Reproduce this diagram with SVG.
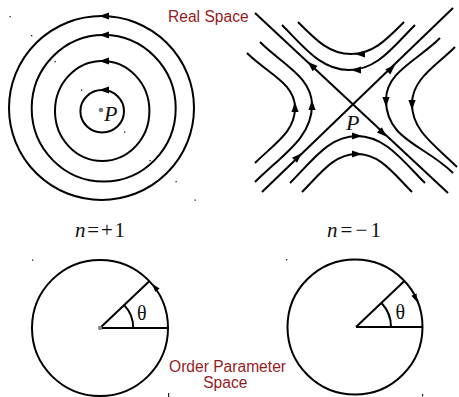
<svg xmlns="http://www.w3.org/2000/svg" width="459" height="397" viewBox="0 0 459 397">
<style>
.ln{fill:none;stroke:#000;stroke-width:2}
.lbl{font-family:"Liberation Sans",Arial,sans-serif;font-size:15.6px;fill:#971b1e}
.math{font-family:"Liberation Serif","Times New Roman",serif;fill:#111}
.it{font-style:italic}
.dot{fill:#222}
</style>
<defs>
<path id="ah" d="M0,0 L-10,-3.6 L-10,3.6 Z" fill="#000"/>
<path id="ahs" d="M0,0 L-8,-2.8 L-8,2.8 Z" fill="#000"/>
</defs>
<rect width="459" height="397" fill="#fff"/>

<g id="labels">
<text class="lbl" x="168" y="21.5">Real Space</text>
<text class="lbl" x="227.5" y="371.5" text-anchor="middle">Order Parameter</text>
<text class="lbl" x="225.3" y="387.5" text-anchor="middle">Space</text>
<text class="math" x="75" y="237" font-size="21" textLength="50" lengthAdjust="spacing"><tspan class="it">n</tspan>=+1</text>
<text class="math" x="327" y="237" font-size="21" textLength="54" lengthAdjust="spacing"><tspan class="it">n</tspan>=−1</text>
</g>

<g id="vortex">
<ellipse class="ln" cx="101.5" cy="108" rx="92.5" ry="92"/>
<ellipse class="ln" cx="103.7" cy="108.3" rx="72" ry="73.3"/>
<ellipse class="ln" cx="102.2" cy="111" rx="47.2" ry="50"/>
<ellipse class="ln" cx="102.2" cy="111.2" rx="21.8" ry="21.2"/>
<use href="#ah" transform="translate(99,16) rotate(180)"/>
<use href="#ah" transform="translate(99,35) rotate(180)"/>
<use href="#ah" transform="translate(99,61) rotate(180)"/>
<use href="#ah" transform="translate(99,90) rotate(180)"/>
<circle cx="101" cy="110" r="2.3" fill="#777"/>
<text class="math it" x="104" y="120.5" font-size="22">P</text>
</g>

<g id="saddle">
<path class="ln" d="M255,13 L448,193"/>
<path class="ln" d="M262,192 L453,8"/>
<path class="ln" d="M298,22 C315.7,39.7 329,54 351,54 C373,54 386.3,39.7 404,22"/>
<path class="ln" d="M282,25 C304.6,47.6 321,70 349,70 C377,70 392.4,47.6 415,25"/>
<path class="ln" d="M290,183 C312.6,160.4 329,136 357,136 C385,136 402.4,160.4 425,183"/>
<path class="ln" d="M302,192 C321,172.9 334,154 357,154 C380,154 393,172.9 412,192"/>
<path class="ln" d="M247,53 C267.5,73.5 295,83 295,108 C295,132 274.1,143.9 255,163"/>
<path class="ln" d="M260,42 C282.6,64.6 312,77 312,105 C312,138 281.9,155.1 255,182"/>
<path class="ln" d="M440,38 C417.4,60.6 386,72 386,100 C386,140 425,145 453,173"/>
<path class="ln" d="M455,47 C435.2,66.8 412,79 412,104 C412,131 435,145 457,167"/>
<use href="#ah" transform="translate(355,54) rotate(180)"/>
<use href="#ah" transform="translate(351,70) rotate(180)"/>
<use href="#ah" transform="translate(362,136) rotate(0)"/>
<use href="#ah" transform="translate(362,154) rotate(0)"/>
<use href="#ah" transform="translate(295,102) rotate(-90)"/>
<use href="#ah" transform="translate(312,100) rotate(-90)"/>
<use href="#ah" transform="translate(386,107) rotate(90)"/>
<use href="#ah" transform="translate(412,110) rotate(90)"/>
<use href="#ah" transform="translate(307.7,61.7) rotate(223)"/>
<use href="#ah" transform="translate(386.7,136.7) rotate(43)"/>
<use href="#ah" transform="translate(301.7,153.3) rotate(-44)"/>
<use href="#ah" transform="translate(395,65) rotate(-44)"/>
<text class="math it" x="346" y="130" font-size="22">P</text>
</g>

<g id="op-plus">
<circle class="ln" cx="100" cy="328" r="68"/>
<path class="ln" d="M100,328 L168,328 M100,328 L149,281.5"/>
<path class="ln" d="M133.3,328 A33.3,33.3 0 0 0 124.2,305.1"/>
<use href="#ahs" transform="translate(152.5,284) rotate(-128)"/>
<circle cx="100" cy="328" r="2.2" fill="#888"/>
<text class="math" x="141.7" y="320" font-size="20" text-anchor="middle">θ</text>
</g>

<g id="op-minus">
<circle class="ln" cx="355" cy="327" r="67.5"/>
<path class="ln" d="M356,327 L422.5,327 M356,327 L404.4,281"/>
<path class="ln" d="M391,327 A35,35 0 0 0 381.5,303"/>
<use href="#ahs" transform="translate(417,302) rotate(68)"/>
<text class="math" x="400.3" y="318.5" font-size="20" text-anchor="middle">θ</text>
</g>

<g id="specks">
<rect class="dot" x="9.5" y="16" width="1.3" height="1.3"/>
<rect class="dot" x="31" y="35" width="1.3" height="1.3"/>
<rect class="dot" x="54.5" y="61" width="1.3" height="1.3"/>
<rect class="dot" x="81" y="89.5" width="1.3" height="1.3"/>
<rect class="dot" x="124" y="131.5" width="1.3" height="1.3"/>
<rect class="dot" x="149.5" y="160" width="1.3" height="1.3"/>
<rect class="dot" x="175.5" y="181" width="1.3" height="1.3"/>
<rect class="dot" x="194.5" y="199.5" width="1.3" height="1.3"/>
<rect class="dot" x="32" y="259.5" width="1.3" height="1.3"/>
<rect class="dot" x="286" y="259" width="1.3" height="1.3"/>
<rect class="dot" x="168" y="393" width="1.2" height="4"/>
<rect class="dot" x="422" y="394" width="1.2" height="2.5"/>
</g>
</svg>
